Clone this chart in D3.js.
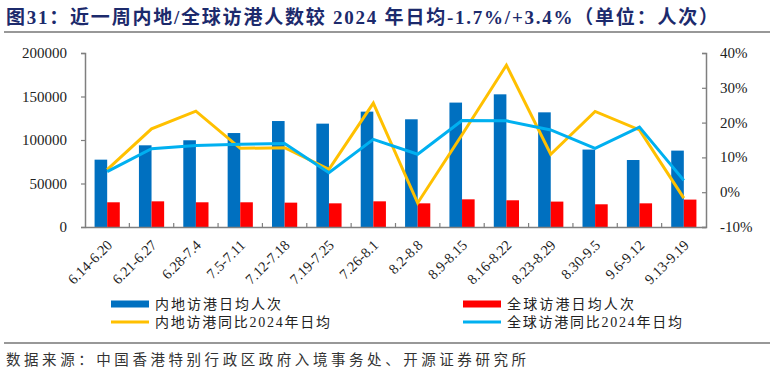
<!DOCTYPE html>
<html>
<head>
<meta charset="utf-8">
<script src="https://cdn.jsdelivr.net/npm/d3@7"></script>
<style>
  body { margin: 0; background: #fff; }
  svg { display: block; }
</style>
</head>
<body>
<div id="chart"></div>
<script>
// data
const weeks = ['6.14-6.20', '6.21-6.27', '6.28-7.4', '7.5-7.11', '7.12-7.18', '7.19-7.25', '7.26-8.1',
    '8.2-8.8', '8.9-8.15', '8.16-8.22', '8.23-8.29', '8.30-9.5', '9.6-9.12', '9.13-9.19'];
const mainlandDaily = [77400, 93900, 99700, 108000, 121800, 118800, 132600,
    123800, 143000, 152500, 131800, 89000, 77000, 87800];
const globalDaily = [28400, 29500, 28400, 28400, 28000, 27200, 29500,
    27200, 31800, 30700, 29200, 26100, 27200, 31500];
const mainlandYoy = [6.5, 18.2, 23.3, 12.6, 12.8, 6.6, 25.6, -3.1, 16.5, 36.5, 10.9, 23.2, 17.9, -1.7];
const globalYoy = [5.9, 12.5, 13.4, 13.8, 14.0, 5.6, 15.2, 10.9, 20.6, 20.5, 17.9, 12.6, 18.7, 3.4];
const leftTicks = [0, 50000, 100000, 150000, 200000];
const rightTicks = [-10, 0, 10, 20, 30, 40];

const W = 774, H = 374;
const margin = {left: 85, right: 68, top: 53, bottom: 147};
const innerRight = W - margin.right;
const innerBottom = H - margin.bottom;

const svg = d3.select('#chart').append('svg').attr('width', W).attr('height', H);

// title
svg.append('text')
    .attr('x', 6).attr('y', 24)
    .attr('font-family', '"Liberation Serif", "Noto Sans CJK SC", serif')
    .attr('font-weight', 'bold')
    .attr('font-size', 19)
    .attr('fill', '#1c2a6c')
    .attr('textLength', 712)
    .attr('lengthAdjust', 'spacing')
    .text('图31：近一周内地/全球访港人数较 2024 年日均-1.7%/+3.4%（单位：人次）');
svg.append('line')
    .attr('x1', 4).attr('x2', 770).attr('y1', 32).attr('y2', 32)
    .attr('stroke', '#333').attr('stroke-width', 1.2);

const x = d3.scaleBand().domain(weeks).range([margin.left, innerRight]);
const xInner = d3.scaleBand().domain(['mainland', 'global'])
    .range([0, x.bandwidth()]).paddingOuter(0.76).paddingInner(0);
const yLeft = d3.scaleLinear().domain([0, 200000]).range([innerBottom, margin.top]);
const yRight = d3.scaleLinear().domain([-10, 40]).range([innerBottom, margin.top]);

// bars
const g = svg.append('g');
g.selectAll('rect.mainland').data(mainlandDaily).enter().append('rect')
    .attr('class', 'mainland')
    .attr('x', (d, i) => x(weeks[i]) + xInner('mainland'))
    .attr('y', (d) => yLeft(d))
    .attr('width', xInner.bandwidth())
    .attr('height', (d) => yLeft(0) - yLeft(d))
    .attr('fill', '#0070c0');
g.selectAll('rect.global').data(globalDaily).enter().append('rect')
    .attr('class', 'global')
    .attr('x', (d, i) => x(weeks[i]) + xInner('global'))
    .attr('y', (d) => yLeft(d))
    .attr('width', xInner.bandwidth())
    .attr('height', (d) => yLeft(0) - yLeft(d))
    .attr('fill', '#ff0000');

// lines
const line = d3.line()
    .x((d, i) => x(weeks[i]) + x.bandwidth() / 2)
    .y((d) => yRight(d));
g.append('path').datum(mainlandYoy)
    .attr('d', line).attr('fill', 'none')
    .attr('stroke', '#ffc000').attr('stroke-width', 3);
g.append('path').datum(globalYoy)
    .attr('d', line).attr('fill', 'none')
    .attr('stroke', '#00b0f0').attr('stroke-width', 3);

// axes
const axisFont = '"Liberation Serif", "Times New Roman", serif';
const leftAxis = svg.append('g')
    .attr('transform', `translate(${margin.left},0)`)
    .call(d3.axisLeft(yLeft).tickValues(leftTicks).tickSize(4).tickPadding(14).tickFormat(d3.format('d')));
const rightAxis = svg.append('g')
    .attr('transform', `translate(${innerRight},0)`)
    .call(d3.axisRight(yRight).tickValues(rightTicks).tickSize(-4).tickPadding(14).tickFormat((d) => d + '%'));
const bottomAxis = svg.append('g')
    .attr('transform', `translate(0,${innerBottom})`)
    .call(d3.axisBottom(x).tickSize(0).tickPadding(0));

[leftAxis, rightAxis, bottomAxis].forEach((a) => {
    a.select('.domain').attr('stroke', '#7f7f7f').attr('stroke-width', 1.5);
    a.selectAll('.tick line').attr('stroke', '#7f7f7f').attr('stroke-width', 1.2);
    a.selectAll('text').attr('font-family', axisFont).attr('font-size', 15).attr('fill', '#222');
});
leftAxis.selectAll('text').attr('dy', '0.3em');
rightAxis.selectAll('text').attr('dy', '0.3em');

// inward separator ticks between categories
bottomAxis.selectAll('line.sep')
    .data(weeks.slice(1)).enter().append('line')
    .attr('class', 'sep')
    .attr('x1', (d) => x(d)).attr('x2', (d) => x(d))
    .attr('y1', 0).attr('y2', -4)
    .attr('stroke', '#7f7f7f').attr('stroke-width', 1.2);

bottomAxis.selectAll('.tick text')
    .attr('text-anchor', 'end')
    .attr('font-size', 14.5)
    .attr('dy', 0)
    .attr('transform', 'translate(6,19) rotate(-45)');

// legend
const legendItems = [
    {label: '内地访港日均人次', color: '#0070c0', type: 'bar', x: 111, y: 304, w: 126},
    {label: '全球访港日均人次', color: '#ff0000', type: 'bar', x: 463, y: 304, w: 127},
    {label: '内地访港同比2024年日均', color: '#ffc000', type: 'line', x: 111, y: 322, w: 175},
    {label: '全球访港同比2024年日均', color: '#00b0f0', type: 'line', x: 463, y: 322, w: 175}
];
const legend = svg.append('g');
legendItems.forEach((item) => {
    if (item.type === 'bar') {
        legend.append('rect')
            .attr('x', item.x).attr('y', item.y - 3.5)
            .attr('width', 38).attr('height', 7)
            .attr('fill', item.color);
    } else {
        legend.append('line')
            .attr('x1', item.x).attr('x2', item.x + 38)
            .attr('y1', item.y).attr('y2', item.y)
            .attr('stroke', item.color).attr('stroke-width', 3);
    }
    legend.append('text')
        .attr('x', item.x + 44).attr('y', item.y)
        .attr('dy', '0.35em')
        .attr('font-family', '"Liberation Serif", "Noto Sans CJK SC", serif')
        .attr('font-size', 14)
        .attr('fill', '#222')
        .attr('textLength', item.w)
        .attr('lengthAdjust', 'spacing')
        .text(item.label);
});

// source
svg.append('line')
    .attr('x1', 4).attr('x2', 770).attr('y1', 343).attr('y2', 343)
    .attr('stroke', '#333').attr('stroke-width', 1.2);
svg.append('text')
    .attr('x', 6).attr('y', 365)
    .attr('font-family', '"Noto Sans CJK SC", sans-serif')
    .attr('font-size', 14.5)
    .attr('fill', '#333')
    .attr('textLength', 520)
    .attr('lengthAdjust', 'spacing')
    .text('数据来源：中国香港特别行政区政府入境事务处、开源证券研究所');
</script>
</body>
</html>
